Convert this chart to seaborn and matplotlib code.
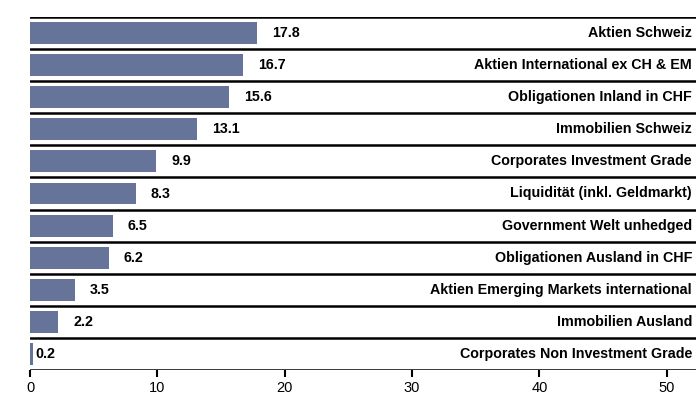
import pandas as pd
import matplotlib.pyplot as plt
import seaborn as sns

# Anlagekategorien und Anteile (%)
kategorien = [
    "Aktien Schweiz",
    "Aktien International ex CH & EM",
    "Obligationen Inland in CHF",
    "Immobilien Schweiz",
    "Corporates Investment Grade",
    "Liquidität (inkl. Geldmarkt)",
    "Government Welt unhedged",
    "Obligationen Ausland in CHF",
    "Aktien Emerging Markets international",
    "Immobilien Ausland",
    "Corporates Non Investment Grade",
]
werte = [17.8, 16.7, 15.6, 13.1, 9.9, 8.3, 6.5, 6.2, 3.5, 2.2, 0.2]
x_ticks = [0, 10, 20, 30, 40, 50]

df = pd.DataFrame({"kategorie": kategorien, "wert": werte})

sns.set_theme(style="white")
plt.rcParams['font.family'] = ['Liberation Sans', 'DejaVu Sans']

fig = plt.figure(figsize=(6.96, 4.0), dpi=100)
ax = fig.add_axes([30 / 696, 30 / 400, 1 - 30 / 696, 353 / 400])

sns.barplot(data=df, x="wert", y="kategorie", orient="h", color="#66749a",
            saturation=1, width=0.68, linewidth=0, ax=ax)

ax.set_xlim(0, 52.3)
ax.set_ylim(len(kategorien) - 0.5, -0.5)

# Trennlinien zwischen den Zeilen
for k in range(len(kategorien) + 1):
    ax.axhline(k - 0.5, color="black", lw=1.8, zorder=3)

for i, (kat, v) in enumerate(zip(kategorien, werte)):
    off = 3 if v < 1 else 15
    ax.annotate(f"{v:.1f}", (v, i), xytext=(off, 0), textcoords="offset pixels",
                ha="left", va="center", fontsize=10.3, fontweight="bold", color="black")
    ax.annotate(kat, (1, i), xycoords=("axes fraction", "data"), xytext=(-4, 0),
                textcoords="offset pixels", ha="right", va="center",
                fontsize=10.3, fontweight="bold", color="black")

ax.set_yticks([])
ax.set_xticks(x_ticks)
ax.set_xlabel("")
ax.set_ylabel("")
for s in ["top", "right", "left", "bottom"]:
    ax.spines[s].set_visible(False)
ax.tick_params(axis="x", direction="out", length=5, width=1.5, color="black",
               labelsize=10.5, labelcolor="black", pad=3, bottom=True)

fig.savefig("out.png", dpi=100)
